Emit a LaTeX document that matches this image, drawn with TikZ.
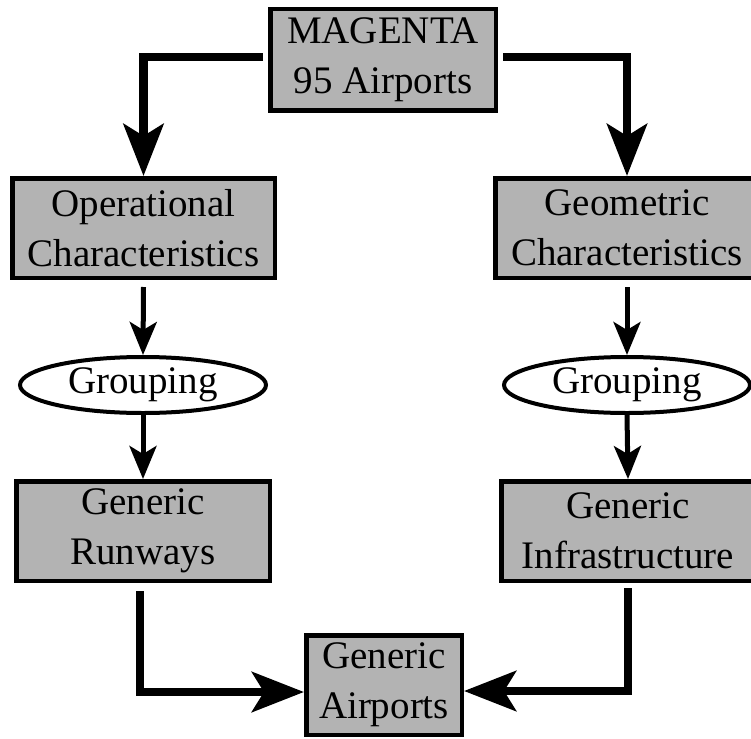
\documentclass[tikz,border=0pt]{standalone}
\usepackage{fontspec}
\setmainfont{Liberation Serif}
\newfontfamily\timesfont{Liberation Serif}
\usetikzlibrary{arrows.meta,shapes.geometric}
\definecolor{boxgray}{RGB}{179,179,179}
\begin{document}
\begin{tikzpicture}[x=1pt,y=-1pt,
  box/.style={draw=black, fill=boxgray, line width=4.5pt, rectangle, align=center,
    inner sep=0pt, minimum height=99.5pt, font=\timesfont\fontsize{39}{50}\selectfont},
  oval/.style={draw=black, fill=white, ellipse, line width=4pt, inner sep=0pt,
    minimum width=246pt, minimum height=56pt, font=\timesfont\fontsize{39}{50}\selectfont},
  bigarrow/.style={line width=8.5pt, -{Stealth[length=52pt,width=40pt,inset=12pt]}},
  smallarrow/.style={line width=5pt, -{Stealth[length=33pt,width=27pt,inset=8pt]}}]
\useasboundingbox (0,0) rectangle (751,738);
\clip (0,0) rectangle (751,738);

\node[box, minimum width=225.5pt, minimum height=101.5pt] (mag) at (383,60) {MAGENTA\\95 Airports};
\node[box, minimum width=262.5pt] (opl) at (143.5,228) {Operational\\Characteristics};
\node[box, minimum width=263.5pt] (geo) at (627,228) {Geometric\\Characteristics};
\node[oval] (grpl) at (143,385) {Grouping};
\node[oval] (grpr) at (627,385) {Grouping};
\node[box, minimum width=253.5pt] (run) at (143,531) {Generic\\Runways};
\node[box, minimum width=253.5pt] (inf) at (628,531) {Generic\\Infrastructure};
\node[box, minimum width=155.5pt] (air) at (384,685) {Generic\\Airports};

\draw[bigarrow] ([yshift=3pt,xshift=-5pt]mag.west) -| (opl.north);
\draw[bigarrow] ([yshift=3pt,xshift=5pt]mag.east) -| (geo.north);
\draw[smallarrow] ([yshift=-7pt]opl.south) -- (grpl.north);
\draw[smallarrow] ([yshift=-7pt]geo.south) -- (grpr.north);
\draw[smallarrow] (grpl.south) -- (run.north);
\draw[smallarrow] (grpr.south) -- (inf.north);
\draw[bigarrow] ([xshift=-3pt,yshift=-8pt]run.south) |- ([yshift=-7pt]air.west);
\draw[bigarrow] ([yshift=-5pt]inf.south) |- ([yshift=-6pt]air.east);
\end{tikzpicture}
\end{document}
